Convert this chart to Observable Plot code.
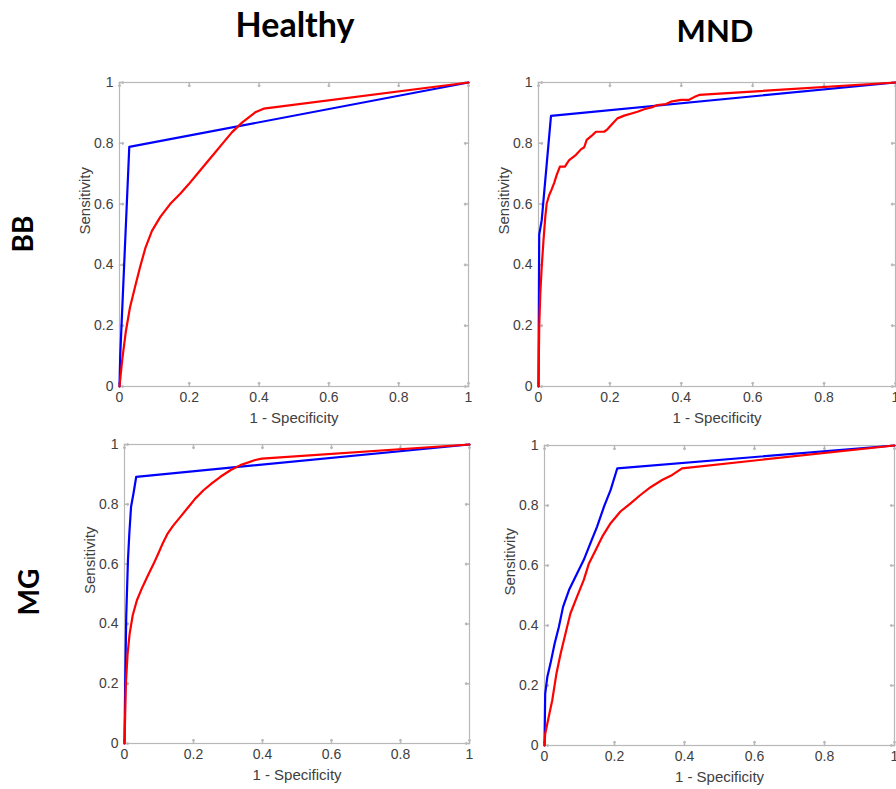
<!DOCTYPE html>
<html>
<head>
<meta charset="utf-8">
<script src="https://cdn.jsdelivr.net/npm/d3@7"></script>
<script src="https://cdn.jsdelivr.net/npm/@observablehq/plot@0.6"></script>
<style>
  html, body { margin: 0; padding: 0; background: #fff; }
  #chart { position: relative; width: 896px; height: 789px; overflow: hidden; background: #fff; }
  .title { position: absolute; font-family: Lato, "DejaVu Sans", sans-serif; font-weight: bold; color: #000; white-space: nowrap; line-height: 1; }
  .rowlab { position: absolute; font-family: Lato, "DejaVu Sans", sans-serif; font-weight: bold; color: #000; white-space: nowrap; line-height: 1; transform: translate(-50%, -50%) rotate(-90deg); }
</style>
</head>
<body>
<div id="chart"></div>
<script>
// ---- Data : [1 - Specificity, Sensitivity] ----
const columnTitles = ["Healthy", "MND"];
const rowTitles = ["BB", "MG"];
const tickValues = [0, 0.2, 0.4, 0.6, 0.8, 1];
const xLabel = "1 - Specificity";
const yLabel = "Sensitivity";

const healthyBB_blue = [[0,0],[0.002,0.1],[0.028,0.788],[1,1]];
const healthyBB_red = [[0,0],[0.008,0.09],[0.018,0.18],[0.030,0.26],[0.045,0.33],[0.059,0.393],[0.074,0.455],[0.093,0.512],[0.117,0.558],[0.145,0.600],[0.174,0.634],[0.198,0.665],[0.222,0.698],[0.250,0.737],[0.274,0.770],[0.298,0.803],[0.322,0.836],[0.351,0.868],[0.389,0.902],[0.413,0.914],[1,1]];

const mndBB_blue = [[0,0],[0.002,0.5],[0.009,0.547],[0.035,0.89],[1,1]];
const mndBB_red = [[0,0],[0.002,0.196],[0.005,0.305],[0.009,0.393],[0.014,0.481],[0.019,0.558],[0.023,0.602],[0.030,0.630],[0.036,0.646],[0.044,0.670],[0.051,0.696],[0.060,0.723],[0.074,0.723],[0.086,0.745],[0.105,0.762],[0.119,0.780],[0.128,0.787],[0.135,0.811],[0.151,0.827],[0.161,0.838],[0.184,0.838],[0.193,0.846],[0.207,0.864],[0.221,0.882],[0.240,0.891],[0.263,0.899],[0.277,0.904],[0.296,0.912],[0.319,0.919],[0.333,0.926],[0.357,0.929],[0.371,0.937],[0.399,0.943],[0.422,0.943],[0.436,0.952],[0.450,0.959],[1,1]];

const healthyMG_blue = [[0,0],[0.002,0.2],[0.005,0.424],[0.010,0.613],[0.014,0.702],[0.019,0.792],[0.026,0.836],[0.034,0.892],[1,1]];
const healthyMG_red = [[0,0],[0.004,0.201],[0.009,0.300],[0.015,0.368],[0.024,0.430],[0.036,0.479],[0.050,0.518],[0.065,0.555],[0.084,0.600],[0.099,0.638],[0.111,0.670],[0.124,0.700],[0.140,0.727],[0.162,0.758],[0.186,0.792],[0.205,0.819],[0.229,0.847],[0.253,0.870],[0.278,0.892],[0.307,0.914],[0.336,0.931],[0.379,0.948],[0.398,0.953],[1,1]];

const mndMG_blue = [[0,0],[0.002,0.173],[0.008,0.228],[0.017,0.273],[0.029,0.340],[0.041,0.395],[0.053,0.462],[0.070,0.518],[0.093,0.573],[0.112,0.618],[0.131,0.674],[0.150,0.729],[0.170,0.796],[0.189,0.852],[0.208,0.924],[1,1]];
const mndMG_red = [[0,0],[0.002,0.039],[0.012,0.095],[0.022,0.150],[0.034,0.239],[0.046,0.306],[0.060,0.373],[0.074,0.440],[0.093,0.496],[0.112,0.551],[0.127,0.607],[0.146,0.651],[0.165,0.696],[0.189,0.741],[0.217,0.780],[0.246,0.807],[0.274,0.835],[0.303,0.861],[0.336,0.885],[0.365,0.902],[0.393,0.924],[1,1]];

// ---- Layout ----
const chart = document.getElementById("chart");
const frameColor = "#b8b8b8";
const textColor = "#404040";

function panel(blue, red, left, top, plotW, plotH) {
  const mL = 60, mR = 14, mT = 10, mB = 48;
  const fmt = d => String(d);
  const svg = Plot.plot({
    width: mL + plotW + mR,
    height: mT + plotH + mB,
    marginLeft: mL, marginRight: mR, marginTop: mT, marginBottom: mB,
    x: {domain: [0, 1]},
    y: {domain: [0, 1]},
    style: {fontFamily: "'Liberation Sans', Arial, sans-serif", fontSize: "14px", color: textColor, background: "transparent", overflow: "visible"},
    marks: [
      Plot.frame({stroke: frameColor, strokeWidth: 1.2}),
      Plot.vector(tickValues, {x: d => d, frameAnchor: "bottom", length: 4, anchor: "start", rotate: 0, stroke: frameColor}),
      Plot.vector(tickValues, {x: d => d, frameAnchor: "top", length: 4, anchor: "start", rotate: 180, stroke: frameColor}),
      Plot.vector(tickValues, {y: d => d, frameAnchor: "left", length: 4, anchor: "start", rotate: 90, stroke: frameColor}),
      Plot.vector(tickValues, {y: d => d, frameAnchor: "right", length: 4, anchor: "start", rotate: -90, stroke: frameColor}),
      Plot.axisX({ticks: tickValues, tickFormat: fmt, tickSize: 0, tickPadding: 6, label: null, fill: textColor}),
      Plot.axisY({ticks: tickValues, tickFormat: fmt, tickSize: 0, tickPadding: 6, label: null, fill: textColor}),
      Plot.text([xLabel], {text: d => d, frameAnchor: "bottom", dy: 36, fontSize: 15, fill: textColor}),
      Plot.text([yLabel], {text: d => d, frameAnchor: "left", dx: -34, rotate: -90, fontSize: 15, fill: textColor}),
      Plot.line(blue, {x: d => d[0], y: d => d[1], stroke: "#0000ff", strokeWidth: 2.2}),
      Plot.line(red, {x: d => d[0], y: d => d[1], stroke: "#ff0000", strokeWidth: 2.2})
    ]
  });
  svg.style.position = "absolute";
  svg.style.left = (left - mL) + "px";
  svg.style.top = (top - mT) + "px";
  chart.appendChild(svg);
}

panel(healthyBB_blue, healthyBB_red, 119, 82, 349, 304);
panel(mndBB_blue, mndBB_red, 538, 82, 357, 304);
panel(healthyMG_blue, healthyMG_red, 124, 444, 345, 299);
panel(mndMG_blue, mndMG_red, 544, 445, 350, 300);

function addTitle(text, cx, baseline, size) {
  const d = document.createElement("div");
  d.className = "title";
  d.textContent = text;
  d.style.fontSize = size + "px";
  d.style.left = cx + "px";
  d.style.top = (baseline - size * 0.8) + "px";
  d.style.transform = "translateX(-50%)";
  chart.appendChild(d);
}
function addRow(text, cx, cy, size) {
  const d = document.createElement("div");
  d.className = "rowlab";
  d.textContent = text;
  d.style.fontSize = size + "px";
  d.style.left = cx + "px";
  d.style.top = cy + "px";
  chart.appendChild(d);
}
addTitle(columnTitles[0], 295, 34, 34);
addTitle(columnTitles[1], 715, 40, 31);
addRow(rowTitles[0], 22, 234, 28);
addRow(rowTitles[1], 28, 592, 28);
</script>
</body>
</html>
